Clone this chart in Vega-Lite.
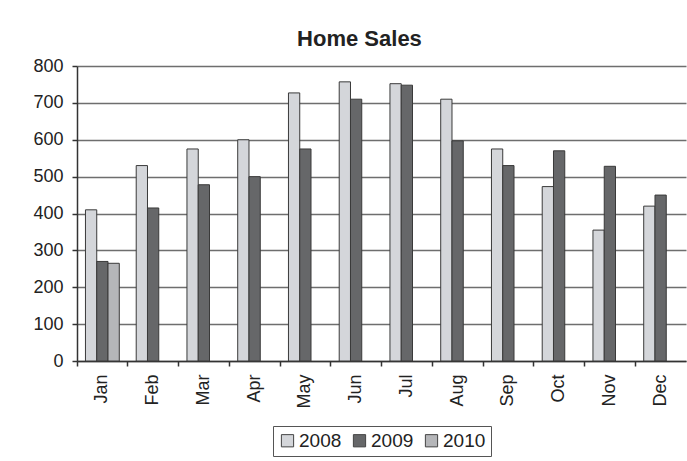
{
  "$schema": "https://vega.github.io/schema/vega-lite/v6.json",
  "autosize": "none",
  "width": 609,
  "height": 295,
  "padding": {"left": 77, "top": 66, "right": 1, "bottom": 100},
  "background": "white",
  "title": {"text": "Home Sales", "fontSize": 22, "fontWeight": "bold", "font": "Liberation Sans", "color": "#222", "anchor": "middle", "frame": "bounds", "offset": 6},
  "data": {"values": [
    {"month": "Jan", "year": "2008", "value": 410},
    {"month": "Jan", "year": "2009", "value": 270},
    {"month": "Jan", "year": "2010", "value": 265},
    {"month": "Feb", "year": "2008", "value": 530},
    {"month": "Feb", "year": "2009", "value": 415},
    {"month": "Mar", "year": "2008", "value": 575},
    {"month": "Mar", "year": "2009", "value": 478},
    {"month": "Apr", "year": "2008", "value": 600},
    {"month": "Apr", "year": "2009", "value": 500},
    {"month": "May", "year": "2008", "value": 727},
    {"month": "May", "year": "2009", "value": 575},
    {"month": "Jun", "year": "2008", "value": 757},
    {"month": "Jun", "year": "2009", "value": 710},
    {"month": "Jul", "year": "2008", "value": 752},
    {"month": "Jul", "year": "2009", "value": 748},
    {"month": "Aug", "year": "2008", "value": 710},
    {"month": "Aug", "year": "2009", "value": 597},
    {"month": "Sep", "year": "2008", "value": 575},
    {"month": "Sep", "year": "2009", "value": 530},
    {"month": "Oct", "year": "2008", "value": 473},
    {"month": "Oct", "year": "2009", "value": 570},
    {"month": "Nov", "year": "2008", "value": 355},
    {"month": "Nov", "year": "2009", "value": 528},
    {"month": "Dec", "year": "2008", "value": 420},
    {"month": "Dec", "year": "2009", "value": 450}
  ]},
  "mark": {"type": "bar", "stroke": "#3a3a3a", "strokeWidth": 1},
  "encoding": {
    "x": {
      "field": "month", "type": "nominal",
      "sort": ["Jan","Feb","Mar","Apr","May","Jun","Jul","Aug","Sep","Oct","Nov","Dec"],
      "scale": {"paddingInner": 0, "paddingOuter": 0},
      "axis": {"title": null, "labelAngle": -90, "labelFontSize": 18, "labelColor": "#222", "bandPosition": 0, "tickSize": 5, "labelPadding": 8, "domainColor": "#333", "tickColor": "#333", "domainWidth": 1.5, "tickWidth": 1.5, "grid": false}
    },
    "xOffset": {
      "field": "year", "type": "nominal",
      "scale": {"domain": ["2008","2009","2010"], "paddingInner": 0, "paddingOuter": 0.75}
    },
    "y": {
      "field": "value", "type": "quantitative",
      "scale": {"domain": [0, 800], "nice": false},
      "axis": {"title": null, "values": [0,100,200,300,400,500,600,700,800], "labelFontSize": 18, "labelColor": "#222", "tickSize": 5, "labelPadding": 9, "domainColor": "#333", "tickColor": "#333", "domainWidth": 1.5, "tickWidth": 1.5, "grid": true, "gridColor": "#6e6e6e", "gridWidth": 1.5}
    },
    "color": {
      "field": "year", "type": "nominal",
      "scale": {"domain": ["2008","2009","2010"], "range": ["#d4d6da", "#666769", "#b5b6b9"]},
      "legend": {"title": null, "orient": "bottom", "direction": "horizontal", "offset": 17, "strokeColor": "#555", "padding": 5, "symbolType": "square", "symbolSize": 150, "symbolStrokeColor": "#444", "symbolStrokeWidth": 1, "labelFontSize": 19, "labelColor": "#222", "columnPadding": 8, "labelOffset": 2}
    }
  },
  "config": {
    "font": "Liberation Sans",
    "view": {"stroke": null},
    "legend": {"layout": {"bottom": {"anchor": "middle"}}}
  }
}
